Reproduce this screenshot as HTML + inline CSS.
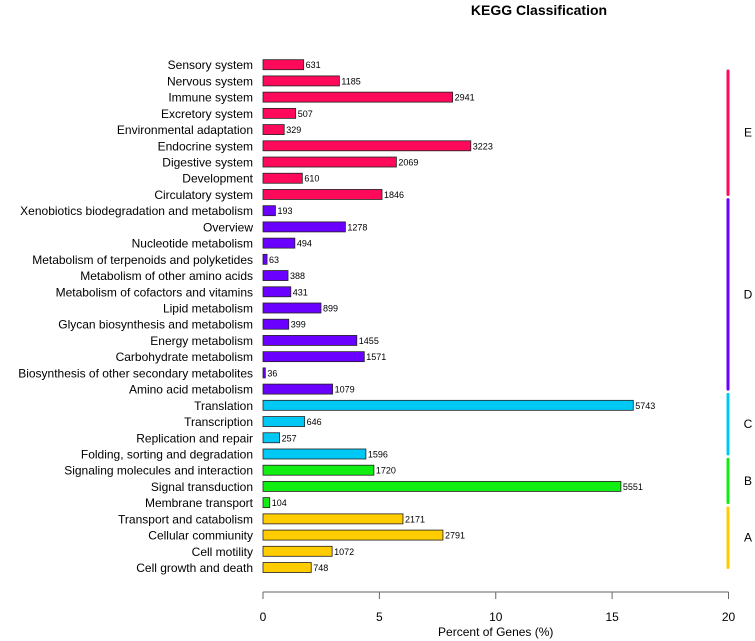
<!DOCTYPE html>
<html><head><meta charset="utf-8"><style>
html,body{margin:0;padding:0;background:#fff}
svg{display:block;font-family:"Liberation Sans",Arial,sans-serif}
</style></head><body>
<svg id="chart" width="755" height="641" viewBox="0 0 755 641">
<text x="539" y="15" font-size="14" font-weight="bold" text-anchor="middle">KEGG Classification</text>
<g id="bars"></g>
<g id="groups"></g>
<g id="axis"></g>
</svg>
<script>
const categories=["Sensory system","Nervous system","Immune system","Excretory system","Environmental adaptation","Endocrine system","Digestive system","Development","Circulatory system","Xenobiotics biodegradation and metabolism","Overview","Nucleotide metabolism","Metabolism of terpenoids and polyketides","Metabolism of other amino acids","Metabolism of cofactors and vitamins","Lipid metabolism","Glycan biosynthesis and metabolism","Energy metabolism","Carbohydrate metabolism","Biosynthesis of other secondary metabolites","Amino acid metabolism","Translation","Transcription","Replication and repair","Folding, sorting and degradation","Signaling molecules and interaction","Signal transduction","Membrane transport","Transport and catabolism","Cellular commiunity","Cell motility","Cell growth and death"];
const geneCounts=[631,1185,2941,507,329,3223,2069,610,1846,193,1278,494,63,388,431,899,399,1455,1571,36,1079,5743,646,257,1596,1720,5551,104,2171,2791,1072,748];
const groupOf=["E","E","E","E","E","E","E","E","E","D","D","D","D","D","D","D","D","D","D","D","D","C","C","C","C","B","B","B","A","A","A","A"];
const groupNames=["E","D","C","B","A"];
const groupColors={E:"#FF0A5A",D:"#6A00FF",C:"#00C8F5",B:"#11EE11",A:"#FFCC00"};
const totalGenes=36100;
const xTicks=[0,5,10,15,20];

const NS="http://www.w3.org/2000/svg";
const x0=263,x1=728.5,xMax=20;
const xs=v=>x0+(v/xMax)*(x1-x0);
const yTop=64.7,step=16.22;
const ys=i=>yTop+i*step;
function mk(t,a){const e=document.createElementNS(NS,t);for(const k in a)e.setAttribute(k,a[k]);return e;}
const gb=document.getElementById('bars');
categories.forEach((c,i)=>{
  const pct=geneCounts[i]/totalGenes*100;
  const y=ys(i);
  const lab=mk('text',{x:253,y:y+4.5,'font-size':12,'text-anchor':'end',fill:'#000'});
  lab.textContent=c;
  
  
  gb.appendChild(lab);
  const r=mk('rect',{x:x0,y:y-5,width:xs(pct)-x0,height:10,fill:groupColors[groupOf[i]],stroke:'#222','stroke-width':0.8});
  
  
  gb.appendChild(r);
  const v=mk('text',{x:xs(pct)+2,y:y+3.5,'font-size':9,fill:'#000'});
  v.textContent=geneCounts[i];
  
  
  gb.appendChild(v);
});
const gg=document.getElementById('groups');
groupNames.forEach(g=>{
  const idx=groupOf.map((v,i)=>v===g?i:-1).filter(i=>i>=0);
  const a=Math.max(71,ys(idx[0])-11),b=ys(idx[idx.length-1]);
  const l=mk('line',{x1:728,x2:728,y1:a,y2:b,stroke:groupColors[g],'stroke-width':3,'stroke-linecap':'round'});
  
  
  gg.appendChild(l);
  const t=mk('text',{x:748,y:(a+b)/2+4,'font-size':12,'text-anchor':'middle',fill:'#000'});
  t.textContent=g;
  
  
  gg.appendChild(t);
});
const ga=document.getElementById('axis');
const al=mk('line',{x1:xs(xTicks[0]),x2:xs(xTicks[xTicks.length-1]),y1:592,y2:592,stroke:'#666','stroke-width':1});


ga.appendChild(al);
xTicks.forEach(v=>{
  const tk=mk('line',{x1:xs(v),x2:xs(v),y1:592,y2:599,stroke:'#666','stroke-width':1});
  
  
  ga.appendChild(tk);
  const tl=mk('text',{x:xs(v),y:621,'font-size':12,'text-anchor':'middle',fill:'#000'});
  tl.textContent=v;
  
  
  ga.appendChild(tl);
});
const xt=mk('text',{x:xs(10),y:636,'font-size':12,'text-anchor':'middle',fill:'#000'});
xt.textContent="Percent of Genes (%)";


ga.appendChild(xt);
</script>
</body></html>
